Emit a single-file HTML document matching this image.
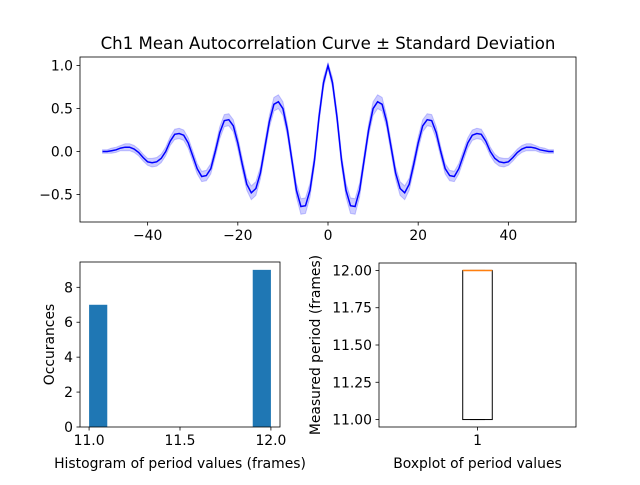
<!DOCTYPE html>
<html><head><meta charset="utf-8"><style>
body{margin:0;background:#fff}
svg text{font-family:"DejaVu Sans","Liberation Sans",sans-serif;fill:#000}
</style></head><body>
<svg id="fig" width="640" height="480" viewBox="0 0 640 480" xmlns="http://www.w3.org/2000/svg">
<rect width="640" height="480" fill="#fff"/>
<text x="328" y="49" font-size="16.6" text-anchor="middle">Ch1 Mean Autocorrelation Curve ± Standard Deviation</text>
<g id="top"></g><g id="hist"></g><g id="box"></g>
</svg>
<script>
// Top chart data (lag 0..50, symmetric)
const halfMean=[1.0,0.8,0.4,-0.1,-0.45,-0.63,-0.64,-0.45,-0.1,0.25,0.5,0.58,0.55,0.35,0.05,-0.25,-0.43,-0.48,-0.38,-0.15,0.1,0.3,0.37,0.36,0.22,0.0,-0.2,-0.28,-0.29,-0.2,-0.05,0.1,0.19,0.21,0.2,0.12,0.0,-0.08,-0.12,-0.13,-0.12,-0.07,-0.01,0.03,0.05,0.05,0.04,0.02,0.01,0.0,0.0];
const halfStd=[0.03,0.06,0.07,0.07,0.08,0.09,0.09,0.08,0.07,0.07,0.08,0.08,0.08,0.07,0.07,0.07,0.08,0.08,0.07,0.07,0.07,0.07,0.07,0.07,0.07,0.06,0.06,0.06,0.06,0.06,0.06,0.06,0.06,0.06,0.06,0.05,0.05,0.05,0.05,0.05,0.04,0.04,0.04,0.04,0.04,0.04,0.03,0.03,0.03,0.02,0.02];
const xTicks=[-40,-20,0,20,40];
const yTicks=[-0.5,0.0,0.5,1.0];
// Histogram data
const histBins=[11.0,11.1,11.2,11.3,11.4,11.5,11.6,11.7,11.8,11.9,12.0];
const histCounts=[7,0,0,0,0,0,0,0,0,9];
const histXTicks=[11.0,11.5,12.0];
const histYTicks=[0,2,4,6,8];
// Boxplot data
const boxStats={q1:11.0,median:12.0,q3:12.0,whiskLo:11.0,whiskHi:12.0};
const boxYTicks=[11.0,11.25,11.5,11.75,12.0];

const NS="http://www.w3.org/2000/svg";
function mk(parent,tag,attrs,name){const e=document.createElementNS(NS,tag);for(const k in attrs)e.setAttribute(k,attrs[k]);


parent.appendChild(e);return e;}
function txt(parent,x,y,s,anchor,name,extra){const t=mk(parent,'text',Object.assign({x:x,y:y,'font-size':13.9,'text-anchor':anchor},extra||{}),name);t.textContent=s;return t;}

// Top chart
(function(){
 const g=document.getElementById('top');
 const L=80,R=576,T=57,B=222;
 const xmin=-55,xmax=55,ymin=-0.82,ymax=1.1;
 const X=v=>L+(v-xmin)/(xmax-xmin)*(R-L);
 const Y=v=>B-(v-ymin)/(ymax-ymin)*(B-T);
 const lags=[],mean=[],std=[];
 for(let i=50;i>=1;i--){lags.push(-i);mean.push(halfMean[i]);std.push(halfStd[i]);}
 for(let i=0;i<=50;i++){lags.push(i);mean.push(halfMean[i]);std.push(halfStd[i]);}
 let up='',dn='';
 lags.forEach((l,i)=>{up+=(i?'L':'M')+X(l).toFixed(1)+','+Y(mean[i]+std[i]).toFixed(1);});
 for(let i=lags.length-1;i>=0;i--)dn+='L'+X(lags[i]).toFixed(1)+','+Y(mean[i]-std[i]).toFixed(1);
 mk(g,'path',{d:up+dn+'Z',fill:'rgba(0,0,255,0.2)',stroke:'rgba(0,0,255,0.2)'},'std-band');
 let d='';lags.forEach((l,i)=>{d+=(i?'L':'M')+X(l).toFixed(1)+','+Y(mean[i]).toFixed(1);});
 mk(g,'path',{d:d,fill:'none',stroke:'#0000ff','stroke-width':1.5},'mean-line');
 mk(g,'rect',{x:L,y:T,width:R-L,height:B-T,fill:'none',stroke:'#000','stroke-width':0.8},'top-axes-frame');
 xTicks.forEach(v=>{mk(g,'line',{x1:X(v),x2:X(v),y1:B,y2:B+3.5,stroke:'#000','stroke-width':0.8},'x-tick');txt(g,X(v),B+18,v<0?'−'+(-v):String(v),'middle','x-tick-label');});
 yTicks.forEach(v=>{mk(g,'line',{x1:L-3.5,x2:L,y1:Y(v),y2:Y(v),stroke:'#000','stroke-width':0.8},'y-tick');txt(g,L-7,Y(v)+5,(v<0?'−':'')+Math.abs(v).toFixed(1),'end','y-tick-label');});
})();

// Histogram
(function(){
 const g=document.getElementById('hist');
 const L=80,R=280,T=262,B=427;
 const xmin=10.95,xmax=12.05,ymin=0,ymax=9.45;
 const X=v=>L+(v-xmin)/(xmax-xmin)*(R-L);
 const Y=v=>B-(v-ymin)/(ymax-ymin)*(B-T);
 histCounts.forEach((c,i)=>{if(c>0)mk(g,'rect',{x:X(histBins[i]),y:Y(c),width:X(histBins[i+1])-X(histBins[i]),height:Y(0)-Y(c),fill:'#1f77b4'},'hist-bar');});
 mk(g,'rect',{x:L,y:T,width:R-L,height:B-T,fill:'none',stroke:'#000','stroke-width':0.8},'hist-axes-frame');
 histXTicks.forEach(v=>{mk(g,'line',{x1:X(v),x2:X(v),y1:B,y2:B+3.5,stroke:'#000','stroke-width':0.8},'hist-x-tick');txt(g,X(v),B+18,v.toFixed(1),'middle','hist-x-tick-label');});
 histYTicks.forEach(v=>{mk(g,'line',{x1:L-3.5,x2:L,y1:Y(v),y2:Y(v),stroke:'#000','stroke-width':0.8},'hist-y-tick');txt(g,L-7,Y(v)+5,String(v),'end','hist-y-tick-label');});
 txt(g,(L+R)/2+0,468,'Histogram of period values (frames)','middle','hist-x-axis-title');
 txt(g,0,0,'Occurances','middle','hist-y-axis-title',{transform:'translate(54,'+((T+B)/2)+') rotate(-90)'});
})();

// Boxplot
(function(){
 const g=document.getElementById('box');
 const L=379,R=576,T=263,B=427;
 const ymin=10.95,ymax=12.05,xmin=0.5,xmax=1.5;
 const X=v=>L+(v-xmin)/(xmax-xmin)*(R-L);
 const Y=v=>B-(v-ymin)/(ymax-ymin)*(B-T);
 const w=0.075;
 mk(g,'rect',{x:X(1-w),y:Y(boxStats.q3),width:X(1+w)-X(1-w),height:Y(boxStats.q1)-Y(boxStats.q3),fill:'none',stroke:'#000','stroke-width':1},'box');
 mk(g,'line',{x1:X(1-w/2),x2:X(1+w/2),y1:Y(boxStats.whiskLo),y2:Y(boxStats.whiskLo),stroke:'#000','stroke-width':1},'lower-whisker-cap');
 mk(g,'line',{x1:X(1-w/2),x2:X(1+w/2),y1:Y(boxStats.whiskHi),y2:Y(boxStats.whiskHi),stroke:'#000','stroke-width':1},'upper-whisker-cap');
 mk(g,'line',{x1:X(1-w),x2:X(1+w),y1:Y(boxStats.median),y2:Y(boxStats.median),stroke:'#ff7f0e','stroke-width':1.5},'median-line');
 mk(g,'rect',{x:L,y:T,width:R-L,height:B-T,fill:'none',stroke:'#000','stroke-width':0.8},'box-axes-frame');
 mk(g,'line',{x1:X(1),x2:X(1),y1:B,y2:B+3.5,stroke:'#000','stroke-width':0.8},'box-x-tick');
 txt(g,X(1),B+18,'1','middle','box-x-tick-label');
 boxYTicks.forEach(v=>{mk(g,'line',{x1:L-3.5,x2:L,y1:Y(v),y2:Y(v),stroke:'#000','stroke-width':0.8},'box-y-tick');txt(g,L-7,Y(v)+5,v.toFixed(2),'end','box-y-tick-label');});
 txt(g,(L+R)/2,468,'Boxplot of period values','middle','box-x-axis-title');
 txt(g,0,0,'Measured period (frames)','middle','box-y-axis-title',{transform:'translate(320,'+((T+B)/2)+') rotate(-90)'});
})();
</script>
</body></html>
